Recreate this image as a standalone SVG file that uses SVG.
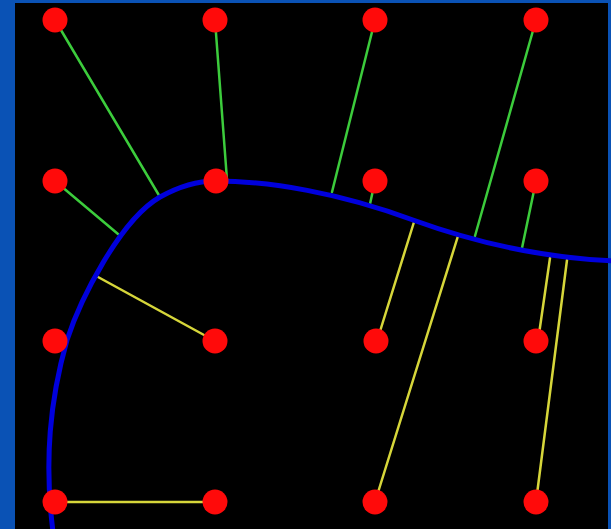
<svg xmlns="http://www.w3.org/2000/svg" width="611" height="529" viewBox="0 0 611 529">
  <style>
    .dot { fill: #ff0a0a; }
    .g { stroke: #3ccc3c; stroke-width: 2.5; stroke-linecap: round; fill: none; }
    .y { stroke: #d6d63a; stroke-width: 2.5; stroke-linecap: round; fill: none; }
    .curve { stroke: #0000dc; stroke-width: 5; fill: none; stroke-linecap: round; }
  </style>
  <rect x="0" y="0" width="611" height="529" fill="#0a52b5"/>
  <rect x="15" y="3" width="593" height="526" fill="#000000"/>

  <g id="connectors">
    <line class="g" x1="55" y1="20" x2="160" y2="197"/>
    <line class="g" x1="215" y1="20" x2="227" y2="180"/>
    <line class="g" x1="375" y1="20" x2="332" y2="192"/>
    <line class="g" x1="536" y1="20" x2="475" y2="236"/>
    <line class="g" x1="55" y1="181" x2="118" y2="234"/>
    <line class="g" x1="375" y1="181" x2="370" y2="204"/>
    <line class="g" x1="536" y1="181" x2="522" y2="248"/>
    <line class="y" x1="215" y1="341" x2="98" y2="277"/>
    <line class="y" x1="55" y1="502" x2="215" y2="502"/>
    <line class="y" x1="377" y1="341" x2="414" y2="222"/>
    <line class="y" x1="375" y1="502" x2="458" y2="236"/>
    <line class="y" x1="538" y1="341" x2="550" y2="258"/>
    <line class="y" x1="536" y1="502" x2="567" y2="260"/>
  </g>

  <g id="boundary">
    <path class="curve" d="M53,532 C44,460 50,400 67,340 C80,300 120,220 160,197 C180,186 200,181 215,181 C270,181 340,193 413,220 C471,241 540,258 615,261"/>
  </g>

  <g id="n1"><circle class="dot" cx="55" cy="20" r="12.5"/></g>
  <g id="n2"><circle class="dot" cx="215" cy="20" r="12.5"/></g>
  <g id="n3"><circle class="dot" cx="375" cy="20" r="12.5"/></g>
  <g id="n4"><circle class="dot" cx="536" cy="20" r="12.5"/></g>
  <g id="n5"><circle class="dot" cx="55" cy="181" r="12.5"/></g>
  <g id="n6"><circle class="dot" cx="216" cy="181" r="12.5"/></g>
  <g id="n7"><circle class="dot" cx="375" cy="181" r="12.5"/></g>
  <g id="n8"><circle class="dot" cx="536" cy="181" r="12.5"/></g>
  <g id="n9"><circle class="dot" cx="55" cy="341" r="12.5"/></g>
  <g id="n10"><circle class="dot" cx="215" cy="341" r="12.5"/></g>
  <g id="n11"><circle class="dot" cx="376" cy="341" r="12.5"/></g>
  <g id="n12"><circle class="dot" cx="536" cy="341" r="12.5"/></g>
  <g id="n13"><circle class="dot" cx="55" cy="502" r="12.5"/></g>
  <g id="n14"><circle class="dot" cx="215" cy="502" r="12.5"/></g>
  <g id="n15"><circle class="dot" cx="375" cy="502" r="12.5"/></g>
  <g id="n16"><circle class="dot" cx="536" cy="502" r="12.5"/></g>
</svg>
